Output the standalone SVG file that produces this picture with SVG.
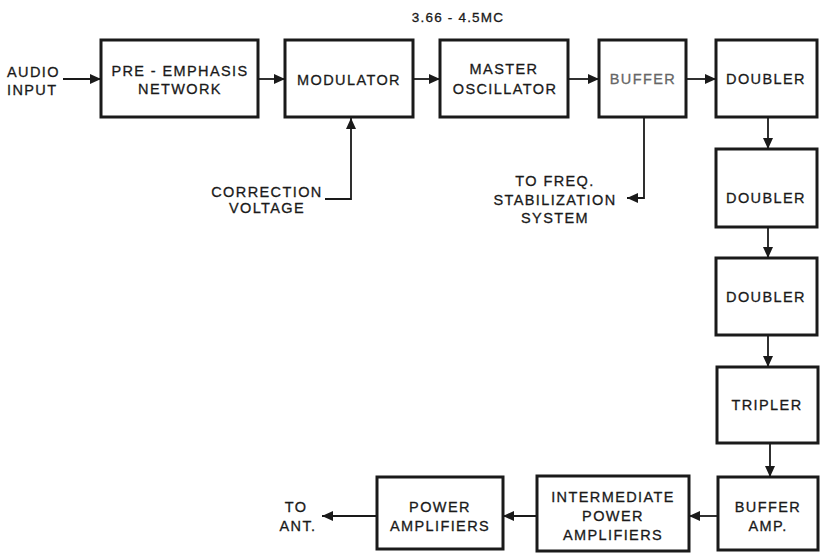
<svg xmlns="http://www.w3.org/2000/svg" width="821" height="553" viewBox="0 0 821 553">
<style>
.box{fill:#fff;stroke:#1a1a1a;stroke-width:3}
.t{font-family:"Liberation Sans",Arial,sans-serif;font-size:14.5px;fill:#1a1a1a;stroke:#1a1a1a;stroke-width:0.3px;letter-spacing:1.4px;text-anchor:middle}
.l{text-anchor:start}
.g{fill:#666;stroke:#666}
.c{fill:none;stroke:#1a1a1a;stroke-width:1.8}
</style>
<defs>
<marker id="ah" markerUnits="userSpaceOnUse" markerWidth="12" markerHeight="10" refX="11" refY="5" orient="auto">
<path d="M0,0 L11,5 L0,10 z" fill="#1a1a1a"/>
</marker>
</defs>
<rect width="821" height="553" fill="#fff"/>
<text class="t" x="458" y="22" style="font-size:13.5px;letter-spacing:1.2px">3.66 - 4.5MC</text>
<g id="audio-input">
<text class="t l" x="7" y="77">AUDIO</text>
<text class="t l" x="7" y="95">INPUT</text>
</g>
<g id="pre-emphasis">
<rect class="box" x="101" y="40" width="157" height="77"/>
<text class="t" x="180" y="76">PRE - EMPHASIS</text>
<text class="t" x="180" y="94">NETWORK</text>
</g>
<g id="modulator">
<rect class="box" x="285" y="40" width="128" height="77"/>
<text class="t" x="349" y="85">MODULATOR</text>
</g>
<g id="master-oscillator">
<rect class="box" x="440" y="40" width="128" height="77"/>
<text class="t" x="504" y="74">MASTER</text>
<text class="t" x="505" y="94">OSCILLATOR</text>
</g>
<g id="buffer">
<rect class="box" x="599" y="40" width="87" height="77"/>
<text class="t g" x="643" y="84">BUFFER</text>
</g>
<g id="doubler1">
<rect class="box" x="716" y="40" width="101" height="77"/>
<text class="t" x="766" y="84">DOUBLER</text>
</g>
<g id="doubler2">
<rect class="box" x="716" y="149" width="101" height="78"/>
<text class="t" x="766" y="203">DOUBLER</text>
</g>
<g id="doubler3">
<rect class="box" x="716" y="258" width="101" height="77"/>
<text class="t" x="766" y="302">DOUBLER</text>
</g>
<g id="tripler">
<rect class="box" x="717" y="367" width="101" height="76"/>
<text class="t" x="767" y="410">TRIPLER</text>
</g>
<g id="buffer-amp">
<rect class="box" x="718" y="477" width="100" height="73"/>
<text class="t" x="768" y="512">BUFFER</text>
<text class="t" x="768" y="531">AMP.</text>
</g>
<g id="intermediate-power">
<rect class="box" x="537" y="476" width="152" height="75"/>
<text class="t" x="613" y="502">INTERMEDIATE</text>
<text class="t" x="613" y="521">POWER</text>
<text class="t" x="613" y="540">AMPLIFIERS</text>
</g>
<g id="power-amplifiers">
<rect class="box" x="377" y="477" width="126" height="72"/>
<text class="t" x="440" y="512">POWER</text>
<text class="t" x="440" y="531">AMPLIFIERS</text>
</g>
<g id="to-ant">
<text class="t" x="296" y="512">TO</text>
<text class="t" x="298" y="531">ANT.</text>
</g>
<g id="correction-voltage">
<text class="t" x="267" y="197">CORRECTION</text>
<text class="t" x="267" y="213">VOLTAGE</text>
</g>
<g id="to-freq">
<text class="t" x="555" y="186">TO FREQ.</text>
<text class="t" x="555" y="205">STABILIZATION</text>
<text class="t" x="555" y="223">SYSTEM</text>
</g>
<g id="connectors">
<line class="c" x1="63" y1="79" x2="101" y2="79" marker-end="url(#ah)"/>
<line class="c" x1="258" y1="79" x2="285" y2="79" marker-end="url(#ah)"/>
<line class="c" x1="413" y1="79" x2="440" y2="79" marker-end="url(#ah)"/>
<line class="c" x1="568" y1="79" x2="599" y2="79" marker-end="url(#ah)"/>
<line class="c" x1="686" y1="79" x2="716" y2="79" marker-end="url(#ah)"/>
<polyline class="c" points="325,199 351,199 351,118" marker-end="url(#ah)"/>
<polyline class="c" points="644,117 644,198 627,198" marker-end="url(#ah)"/>
<line class="c" x1="768" y1="117" x2="768" y2="149" marker-end="url(#ah)"/>
<line class="c" x1="768" y1="227" x2="768" y2="258" marker-end="url(#ah)"/>
<line class="c" x1="768" y1="335" x2="768" y2="367" marker-end="url(#ah)"/>
<line class="c" x1="770" y1="443" x2="770" y2="477" marker-end="url(#ah)"/>
<line class="c" x1="718" y1="516" x2="689" y2="516" marker-end="url(#ah)"/>
<line class="c" x1="537" y1="516" x2="503" y2="516" marker-end="url(#ah)"/>
<line class="c" x1="377" y1="516" x2="322" y2="516" marker-end="url(#ah)"/>
</g>
</svg>
